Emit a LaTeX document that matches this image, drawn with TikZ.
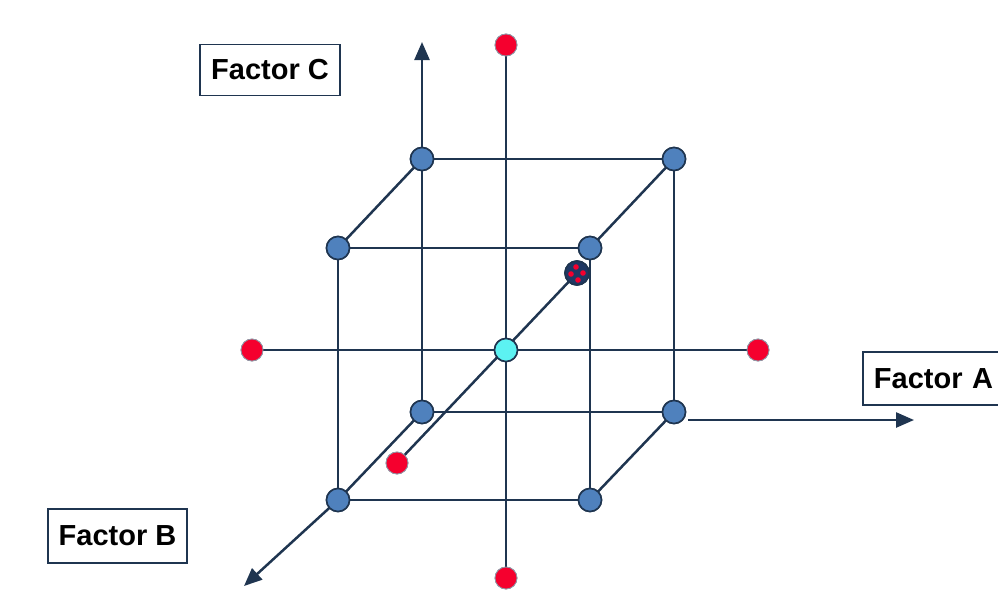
\documentclass[tikz,border=0pt]{standalone}
\usepackage{fontspec}
\setmainfont{Liberation Sans}
\usetikzlibrary{arrows.meta,calc}
\definecolor{navy}{HTML}{1F3550}
\definecolor{ptblue}{HTML}{4F81BD}
\definecolor{ptred}{HTML}{F5002E}
\definecolor{ptcyan}{HTML}{5CF2F2}
\definecolor{dotnavy}{HTML}{1F3864}
\tikzset{
  edge/.style={draw=navy, line width=2.5pt},
  axis/.style={draw=navy, line width=2.5pt, -{Triangle[length=18pt,width=15pt]}},
  bpt/.style={circle, draw=navy, line width=1.6pt, fill=ptblue, minimum size=23pt, inner sep=0pt},
  rpt/.style={circle, draw=navy!50, line width=0.8pt, fill=ptred, minimum size=22pt, inner sep=0pt},
  cpt/.style={circle, draw=navy, line width=1.6pt, fill=ptcyan, minimum size=23pt, inner sep=0pt},
  dpt/.style={circle, draw=navy, line width=1.6pt, fill=dotnavy, minimum size=24pt, inner sep=0pt},
  lab/.style={draw=navy, line width=1.8pt, fill=white, inner sep=0pt, font=\bfseries\fontsize{29}{31}\selectfont, text=black}
}
\begin{document}
\begin{tikzpicture}[x=1pt,y=-1pt]
\useasboundingbox (0,0) rectangle (998,595);
% cube nodes
\node[bpt] (b1) at (422,159) {};
\node[bpt] (b2) at (674,159) {};
\node[bpt] (b3) at (674,412) {};
\node[bpt] (b4) at (422,412) {};
\node[bpt] (f1) at (338,248) {};
\node[bpt] (f2) at (590,248) {};
\node[bpt] (f3) at (590,500) {};
\node[bpt] (f4) at (338,500) {};
% star points
\node[rpt] (rt) at (506,45) {};
\node[rpt] (rb) at (506,578) {};
\node[rpt] (rl) at (252,350) {};
\node[rpt] (rr) at (758,350) {};
\node[rpt] (rf) at (397,463) {};
\node[dpt] (rk) at (577,273) {};
\node[cpt] (c) at (506,350) {};
% axis ends
\coordinate (cA0) at (688,420);
\coordinate (cA) at (914,420);
\coordinate (cC) at (422,42);
\coordinate (cB) at (244,586);
% lines
\path[edge] (b1.center) -- (b2.center) -- (b3.center) -- (b4.center) -- cycle;
\path[edge] (f1.center) -- (f2.center) -- (f3.center) -- (f4.center) -- cycle;
\path[edge] (f1.center) -- (b1.center);
\path[edge] (f2.center) -- (b2.center);
\path[edge] (f3.center) -- (b3.center);
\path[edge] (f4.center) -- (b4.center);
\path[edge] (rt.center) -- (rb.center);
\path[edge] (rl.center) -- (rr.center);
\path[edge] (rf.center) -- (rk.center);
\path[axis] (b1.center) -- (cC);
\path[axis] (cA0) -- (cA);
\path[axis] (f4.center) -- (cB);
% redraw nodes on top
\foreach \n/\s in {b1/bpt,b2/bpt,b3/bpt,b4/bpt,f1/bpt,f2/bpt,f3/bpt,f4/bpt,rt/rpt,rb/rpt,rl/rpt,rr/rpt,rf/rpt,c/cpt,rk/dpt}{
  \node[\s] at (\n) {};
}
\foreach \dx/\dy in {-1/-6,-6/1,6/0,1/7}{
  \fill[ptred] ($(rk)+(\dx,\dy)$) circle (2.8);
}
% labels
\node[lab, minimum width=140pt, minimum height=51pt] (lc) at (270,70) {Factor C};
\node[lab, minimum width=139pt, minimum height=54pt] (lb) at (117.5,536) {Factor B};
\node[lab, anchor=west, minimum height=53pt, inner xsep=11pt, text width=135pt, align=left] (la) at (862,378.5) {Factor A};
\end{tikzpicture}
\end{document}
